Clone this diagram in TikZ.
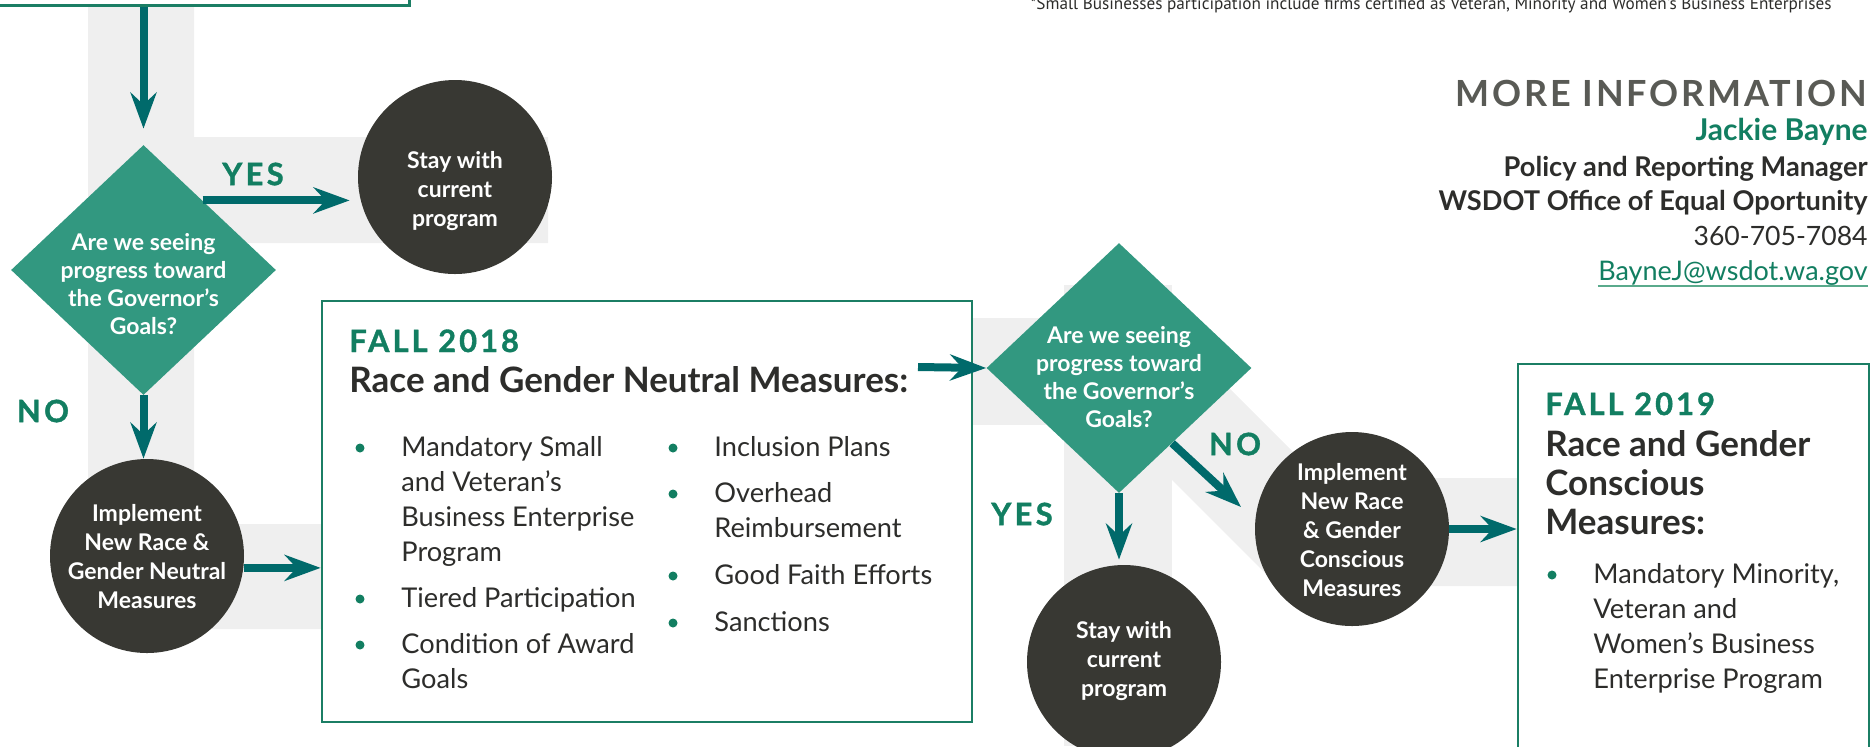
\documentclass[tikz,border=0pt]{standalone}
\usepackage{fontspec}
\setmainfont{Lato}
\newfontfamily\notefont{PT Sans}
\usetikzlibrary{shapes.geometric,arrows.meta,calc}
\definecolor{flowteal}{RGB}{0,106,107}
\definecolor{askgreen}{RGB}{50,152,128}
\definecolor{stepdark}{RGB}{56,56,51}
\definecolor{headgreen}{RGB}{18,126,97}
\definecolor{framegreen}{RGB}{27,126,100}
\definecolor{bandgray}{RGB}{239,239,239}
\definecolor{bodydark}{RGB}{45,45,43}
\definecolor{infogray}{RGB}{89,90,85}
\definecolor{mailline}{RGB}{90,170,140}
\tikzset{% change default arrow tips
    >={Stealth[length=18pt,width=13pt,inset=6pt]},
    flowarrow/.style={->,draw=flowteal,line width=4pt},
    question/.style={diamond,fill=askgreen,minimum width=132.5pt,minimum height=125pt,inner sep=0pt},
    asktext/.style={text=white,font=\bfseries\fontsize{11.5}{14}\selectfont,align=center,inner sep=0pt},
    action/.style={circle,fill=stepdark,minimum size=97pt,inner sep=0pt},
    actiontext/.style={text=white,font=\bfseries\fontsize{11.5}{14.5}\selectfont,align=center,inner sep=0pt},
    measurebox/.style={draw=framegreen,line width=1.35pt,fill=white,inner sep=0pt},
    answer/.style={text=headgreen,font=\bfseries\fontsize{15.4}{18}\selectfont\addfontfeature{LetterSpace=11,FakeBold=1.2},inner sep=0pt},
    season/.style={text=headgreen,font=\bfseries\fontsize{15.4}{18}\selectfont\addfontfeature{LetterSpace=10,FakeBold=1.2},anchor=base west,inner sep=0pt},
    boxhead/.style={text=bodydark,font=\bfseries\fontsize{17.5}{19.5}\selectfont,align=left,anchor=base west,inner sep=0pt},
    item/.style={text=bodydark,font=\fontsize{13.6}{17.5}\selectfont,align=left,anchor=base west,inner sep=0pt},
    bulletdot/.style={fill=headgreen},
    contact/.style={anchor=base east,inner sep=0pt,text=bodydark}
}

\begin{document}
\begin{tikzpicture}[x=0.5pt,y=-0.5pt]
	\newcommand{\colA}{401}
	\newcommand{\colB}{714}
	\newcommand{\colC}{1593}
	\newcommand{\dotoff}{41}
	\useasboundingbox (0,0) rectangle (1871,746);
	\clip (0,0) rectangle (1871,746);

	% grey bands behind the chart
	\fill[bandgray] (88,0) -- (194,0) -- (194,137) -- (548,137) -- (548,243) -- (194,243) -- (194,524) -- (322,524) -- (322,629) -- (88,629) -- cycle;
	\fill[bandgray] (972,318) rectangle (1172,425);
	\fill[bandgray] (1064,285) rectangle (1172,746);
	\fill[bandgray] (1172,331) -- (1319,478) -- (1518,478) -- (1518,586) -- (1278,586) -- (1172,480) -- cycle;

	% previous step (cut off)
	\node[measurebox,minimum width=220pt,minimum height=20pt,anchor=south east] (prev) at (411,7) {};

	% decisions
	\node[question] (d1) at (143.5,270) {};
	\node[question] (d2) at (1119,368) {};
	\node[asktext] (d1t) at (143.5,284) {Are we seeing\\progress toward\\the Governor's\\Goals?};
	\node[asktext] (d2t) at (1119,377) {Are we seeing\\progress toward\\the Governor's\\Goals?};

	% actions
	\node[action] (c1) at (455,177) {};
	\node[action] (c2) at (147,556) {};
	\node[action] (c3) at (1352,529) {};
	\node[action] (c4) at (1124,662) {};
	\node[actiontext] (c1t) at (455,191) {Stay with\\current\\program};
	\node[actiontext] (c2t) at (147,557) {Implement\\New Race \&\\Gender Neutral\\Measures};
	\node[actiontext] (c3t) at (1352,530) {Implement\\New Race\\\& Gender\\Conscious\\Measures};
	\node[actiontext] (c4t) at (1124,661) {Stay with\\current\\program};

	% measure boxes
	\node[measurebox,minimum width=325pt,minimum height=210.5pt] (b18) at (647,511.5) {};
	\node[measurebox,minimum width=175.5pt,minimum height=218pt] (b19) at (1693.5,582) {};

	% fall 2018 (items sit on the baseline of their last line)
	\node[season] (s18) at (349,352) {FALL 2018};
	\node[boxhead] (h18) at (349,392) {Race and Gender Neutral Measures:};
	\node[item] (m1) at (\colA,561) {Mandatory Small\\and Veteran's\\Business Enterprise\\Program};
	\node[item] (m2) at (\colA,607) {Tiered Participation};
	\node[item] (m3) at (\colA,688) {Condition of Award\\Goals};
	\node[item] (m4) at (\colB,456) {Inclusion Plans};
	\node[item] (m5) at (\colB,537) {Overhead\\Reimbursement};
	\node[item] (m6) at (\colB,584) {Good Faith Efforts};
	\node[item] (m7) at (\colB,631) {Sanctions};

	% fall 2019
	\node[season] (s19) at (1545,415) {FALL 2019};
	\node[boxhead] (h19) at (1545,534) {Race and Gender\\Conscious\\Measures:};
	\node[item] (m8) at (\colC,688) {Mandatory Minority,\\Veteran and\\Women's Business\\Enterprise Program};

	% bullets, on the first line of each item
	\foreach \x/\y in {\colA/456,\colA/607,\colA/653,\colB/456,\colB/502,\colB/584,\colB/631,\colC/583}
		\fill[bulletdot] (\x-\dotoff,\y-8) circle (2.25pt);

	% arrows
	\coordinate (d1yes) at ($(d1.north)!0.445!(d1.east)$);
	\coordinate (b18out) at (918,367);
	\coordinate (d2no) at ($(d2.east)!0.6!(d2.south)$);
	\coordinate (c3tip) at ($(c3.center)+(-111,-22)$);
	\draw[flowarrow,shorten >=8pt] (d1.north |- prev.south) -- (d1.north);
	\draw[flowarrow,shorten >=4pt] (d1yes) -- (d1yes -| c1.west);
	\draw[flowarrow] (d1.south) -- (d1.south |- c2.north);
	\draw[flowarrow] (c2.-7) -- (c2.-7 -| b18.west);
	\draw[flowarrow] (b18out) -- (d2.west);
	\draw[flowarrow,shorten >=2.5pt] (d2.south) -- (d2.south |- c4.north);
	\draw[flowarrow] (d2no) -- (c3tip);
	\draw[flowarrow] (c3.east) -- (c3.east -| b19.west);

	% answers
	\node[answer] (yes1) at (253,174) {YES};
	\node[answer] (no1) at (43,411) {NO};
	\node[answer] (yes2) at (1022,514) {YES};
	\node[answer] (no2) at (1235,444) {NO};

	% more information
	\node[contact,text=infogray,font=\bfseries\fontsize{18}{20}\selectfont\addfontfeature{LetterSpace=8}] (more) at (1868,106) {MORE INFORMATION};
	\node[contact,text=headgreen,font=\bfseries\fontsize{15}{17}\selectfont] (name) at (1868,140) {Jackie Bayne};
	\node[contact,font=\bfseries\fontsize{13.6}{16}\selectfont] (role) at (1868,176) {Policy and Reporting Manager};
	\node[contact,font=\bfseries\fontsize{13.6}{16}\selectfont] (office) at (1868,210) {WSDOT Office of Equal Oportunity};
	\node[contact,font=\fontsize{13.3}{16}\selectfont] (phone) at (1868,245) {360-705-7084};
	\node[contact,text=headgreen,font=\fontsize{13.5}{16}\selectfont] (mail) at (1868,280) {BayneJ@wsdot.wa.gov};
	\draw[mailline,line width=1pt] ($(mail.base west)+(0,6)$) -- ($(mail.base east)+(0,6)$);

	% footnote (cut off at the top)
	\node[anchor=base east,inner sep=0pt,text=bodydark,font=\notefont\fontsize{8.6}{10}\selectfont] (note) at (1832,9) {*Small Businesses participation include firms certified as Veteran, Minority and Women's Business Enterprises};
\end{tikzpicture}
\end{document}
